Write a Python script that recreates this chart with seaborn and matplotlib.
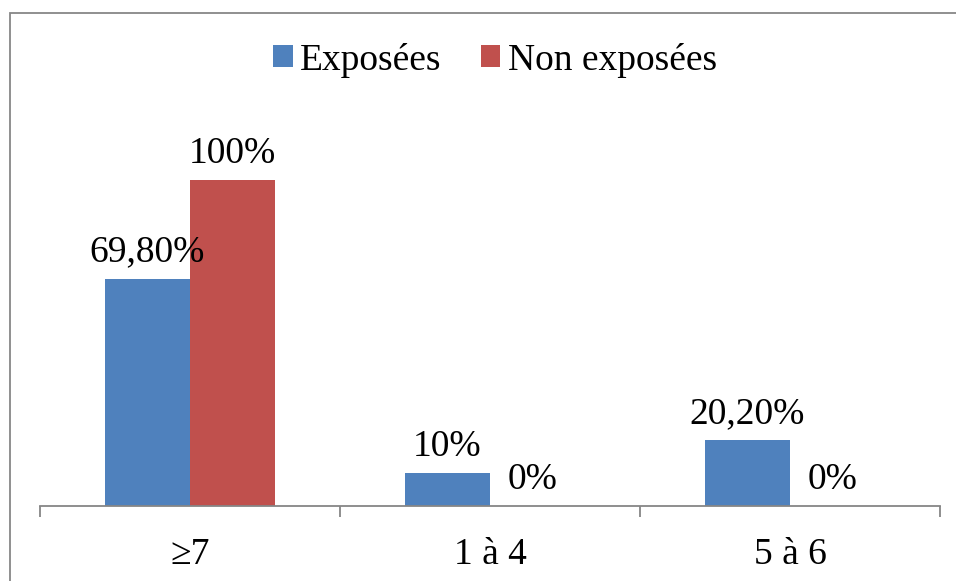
import pandas as pd
import matplotlib.pyplot as plt
import seaborn as sns
from matplotlib.patches import Rectangle
from matplotlib.ticker import FixedLocator

# ── Données ──────────────────────────────────────────────────────────────────
categories = ["\u22657", "1 à 4", "5 à 6"]
series = ["Exposées", "Non exposées"]
exposees = [69.8, 10.0, 20.2]
non_exposees = [100.0, 0.0, 0.0]
colors = ["#4F81BD", "#C0504D"]


def fmt_pct(v):
    if float(v).is_integer():
        return f"{int(v)}%"
    return f"{v:.2f}".replace(".", ",") + "%"


df = pd.DataFrame({
    "Groupe": categories * 2,
    "Serie": [series[0]] * 3 + [series[1]] * 3,
    "Valeur": exposees + non_exposees,
})

FS = 27

sns.set_theme(style="white")
plt.rcParams["font.family"] = ["Liberation Serif", "DejaVu Serif"]
plt.rcParams["text.color"] = "black"

fig = plt.figure(figsize=(9.56, 5.81), dpi=100)
ax = fig.add_axes([40 / 956, 75 / 581, 900 / 956, 391 / 581])

sns.barplot(
    data=df, x="Groupe", y="Valeur", hue="Serie",
    order=categories, hue_order=series,
    palette=colors, width=0.567, saturation=1,
    edgecolor="none", linewidth=0, ax=ax,
)

# étiquettes de données
for cont, vals in zip(ax.containers, [exposees, non_exposees]):
    for bar, v in zip(cont, vals):
        ax.annotate(
            fmt_pct(v),
            (bar.get_x() + bar.get_width() / 2, bar.get_height()),
            xytext=(0, 12.5), textcoords="offset points",
            ha="center", va="baseline", fontsize=FS, color="black",
            annotation_clip=False,
        )

ax.set_ylim(0, 120)
ax.set_xlim(-0.5, 2.5)
ax.set_xlabel("")
ax.set_ylabel("")
ax.set_yticks([])
for s in ["left", "right", "top"]:
    ax.spines[s].set_visible(False)
ax.spines["bottom"].set_color("#868686")
ax.spines["bottom"].set_linewidth(1.3)
ax.xaxis.set_minor_locator(FixedLocator([-0.5, 0.5, 1.5, 2.5]))
ax.tick_params(axis="x", which="major", length=0, labelsize=FS, pad=23,
               labelcolor="black")
ax.tick_params(axis="x", which="minor", bottom=True, length=8, width=1.3,
               color="#868686", direction="out")

# légende en haut
handles, labels = ax.get_legend_handles_labels()
ax.get_legend().remove()
fig.legend(
    handles, labels, loc="center", bbox_to_anchor=(495 / 956, 1 - 60 / 581),
    ncol=2, frameon=False, fontsize=FS, labelcolor="black",
    handlelength=0.52, handleheight=0.52, handletextpad=0.2,
    columnspacing=1.05,
)

# cadre de la zone de graphique
fig.patches.append(Rectangle(
    (10 / 956, -0.05), 1.2, 1.05 - 13 / 581,
    transform=fig.transFigure, fill=False,
    edgecolor="#878787", linewidth=1.3,
))

fig.savefig("out.png", dpi=100)
